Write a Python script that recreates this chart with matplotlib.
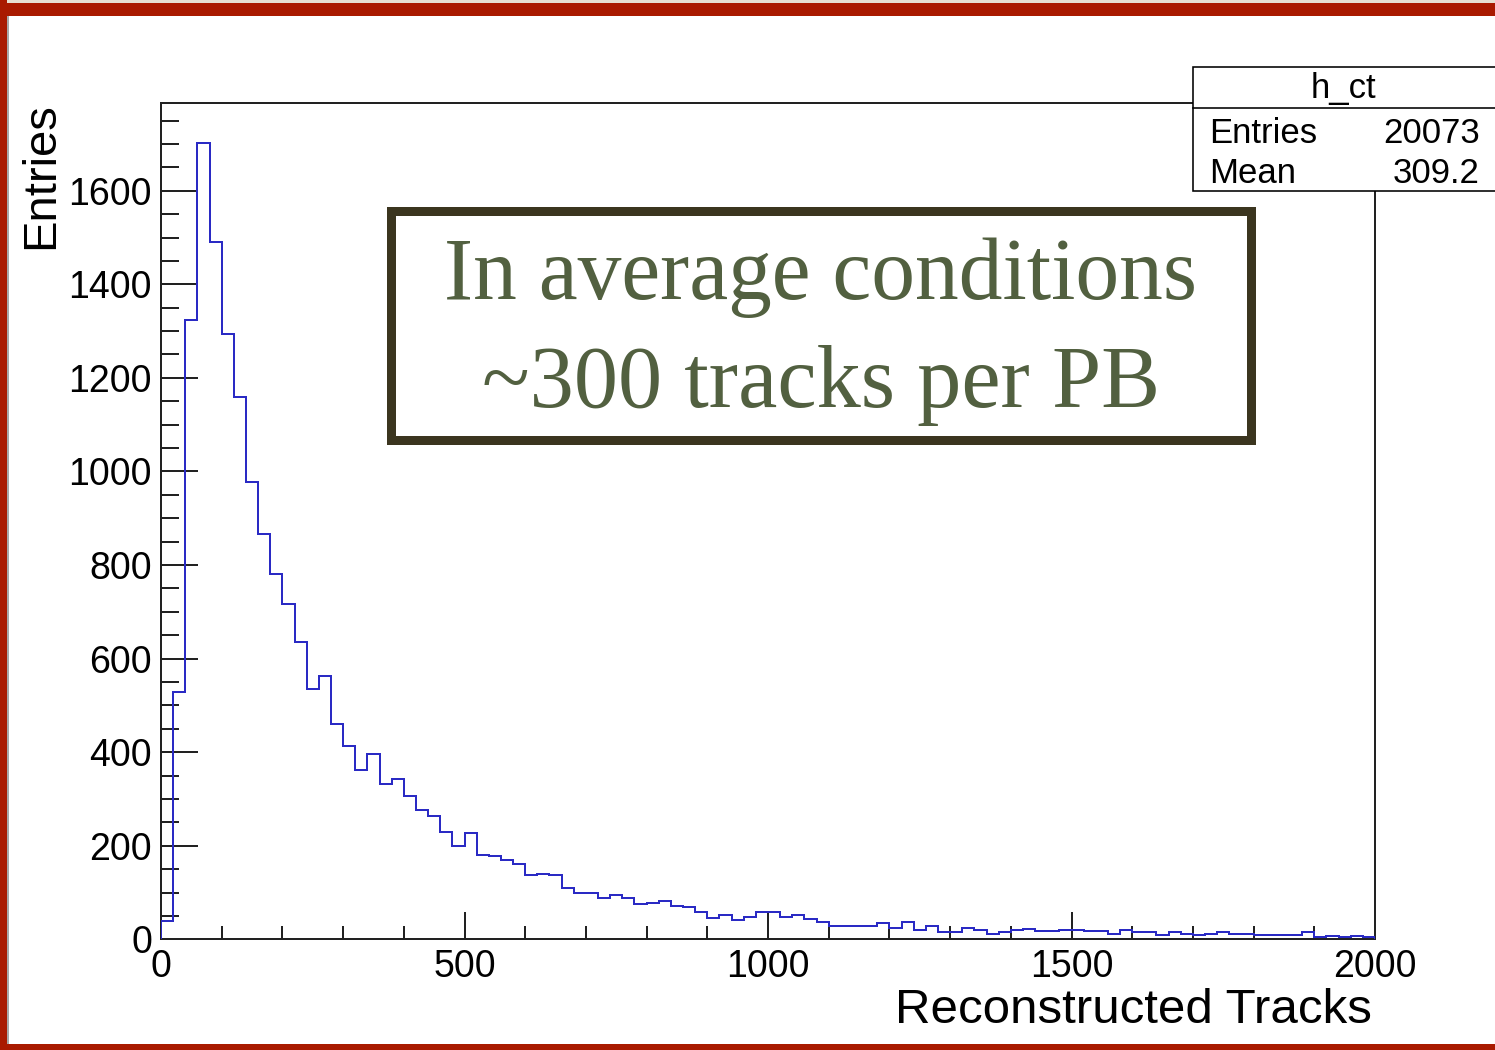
import numpy as np
import matplotlib
matplotlib.use("Agg")
import matplotlib.pyplot as plt
from matplotlib.patches import Rectangle
from matplotlib.lines import Line2D
from matplotlib.ticker import MultipleLocator

# ---------------- data ----------------
bin_start = 0
bin_stop = 2000
bin_width = 20
counts = [
    39, 529, 1323, 1703, 1491, 1293, 1160, 978, 866, 780,
    717, 635, 535, 563, 460, 414, 362, 395, 332, 342,
    307, 276, 263, 230, 200, 227, 180, 177, 170, 161,
    137, 140, 137, 110, 98, 98, 88, 95, 88, 76,
    78, 81, 72, 68, 58, 46, 51, 41, 48, 58,
    58, 48, 51, 43, 36, 28, 28, 28, 28, 35,
    25, 38, 19, 28, 16, 16, 24, 19, 12, 16,
    19, 22, 17, 17, 19, 19, 17, 17, 12, 19,
    16, 16, 9, 16, 12, 10, 12, 16, 12, 12,
    9, 9, 9, 9, 16, 5, 8, 5, 8, 5,
]
x_ticks = [0, 500, 1000, 1500, 2000]
y_ticks = [0, 200, 400, 600, 800, 1000, 1200, 1400, 1600]
x_label = "Reconstructed Tracks"
y_label = "Entries"
stats_title = "h_ct"
stats_names = ["Entries", "Mean"]
stats_values = ["20073", "309.2"]
note_lines = ["In average conditions", "~300 tracks per PB"]

# ---------------- figure ----------------
W, H = 1495, 1050
fig = plt.figure(figsize=(W / 100, H / 100), dpi=100)
fig.patch.set_facecolor("white")


def fx(x):
    return x / W


def fy(y):
    return 1 - y / H


SANS = ["Liberation Sans", "DejaVu Sans"]
SERIF = ["Liberation Serif", "DejaVu Serif"]
PX = 0.72  # points per pixel at 100 dpi

ax_l, ax_r, ax_t, ax_b = 161, 1375, 102.7, 939.3
ax = fig.add_axes([fx(ax_l), fy(ax_b), (ax_r - ax_l) / W, (ax_b - ax_t) / H])

edges = np.arange(bin_start, bin_stop + bin_width, bin_width)
ax.stairs(counts, edges, baseline=0, color="#2a2ac4", lw=2 * PX, zorder=3)

ax.set_xlim(bin_start, bin_stop)
ax.set_ylim(0, 1.05 * max(counts))
ax.set_xticks(x_ticks)
ax.set_yticks(y_ticks)
ax.xaxis.set_minor_locator(MultipleLocator(100))
ax.yaxis.set_minor_locator(MultipleLocator(50))

for s in ax.spines.values():
    s.set_linewidth(2 * PX)
    s.set_color("#222222")

ax.tick_params(axis="both", which="both", direction="in", top=False, right=False,
               width=2 * PX, color="#222222")
ax.tick_params(axis="y", which="major", length=37 * PX, pad=9 * PX)
ax.tick_params(axis="y", which="minor", length=18 * PX)
ax.tick_params(axis="x", which="major", length=27 * PX, pad=10 * PX)
ax.tick_params(axis="x", which="minor", length=13 * PX)
for lab in ax.get_xticklabels() + ax.get_yticklabels():
    lab.set_fontfamily(SANS)
    lab.set_fontsize(27)
    lab.set_color("black")

# axis titles
fig.text(fx(1372), fy(1023), x_label, ha="right", va="baseline",
         fontsize=35.5, family=SANS, color="black")
fig.text(fx(41), fy(102), y_label, ha="center", va="top", rotation=90,
         fontsize=34, family=SANS, color="black")

# ---------------- stats box ----------------
sb_l, sb_t, sb_b, sb_div = 1193.3, 67.3, 190.7, 108.3
fig.add_artist(Rectangle((fx(sb_l), fy(sb_b)), fx(1510) - fx(sb_l), fy(sb_t) - fy(sb_b),
                         transform=fig.transFigure, facecolor="white",
                         edgecolor="black", lw=1.6 * PX, zorder=10))
fig.add_artist(Line2D([fx(sb_l), fx(1500)], [fy(sb_div), fy(sb_div)],
                      transform=fig.transFigure, color="black", lw=1.6 * PX, zorder=11))
fig.text(fx(1343), fy(98), stats_title, ha="center", va="baseline",
         fontsize=25, family=SANS, color="black", zorder=12)
for i, (nm, val) in enumerate(zip(stats_names, stats_values)):
    yb = 143 + 40 * i
    fig.text(fx(1209), fy(yb), nm, ha="left", va="baseline",
             fontsize=25, family=SANS, color="black", zorder=12)
    fig.text(fx(1480), fy(yb), val, ha="right", va="baseline",
             fontsize=25, family=SANS, color="black", zorder=12)

# ---------------- annotation box ----------------
bw = 9
fig.add_artist(Rectangle((fx(386 + bw / 2), fy(444 - bw / 2)),
                         fx(1255 - bw / 2) - fx(386 + bw / 2),
                         fy(207 + bw / 2) - fy(444 - bw / 2),
                         transform=fig.transFigure, facecolor="white",
                         edgecolor="#3b351f", lw=bw * PX, zorder=10))
fig.text(fx(820.5), fy(299), note_lines[0], ha="center", va="baseline",
         fontsize=63, family=SERIF, color="#526040", zorder=12)
fig.text(fx(820.5), fy(407), note_lines[1], ha="center", va="baseline",
         fontsize=63.5, family=SERIF, color="#526040", zorder=12)

# ---------------- slide frame ----------------
red = "#a91a00"
fig.add_artist(Rectangle((0, fy(3)), 1, fy(0) - fy(3), transform=fig.transFigure,
                         facecolor="#e6e0d2", edgecolor="none", zorder=20))
fig.add_artist(Rectangle((0, fy(16)), 1, fy(3) - fy(16), transform=fig.transFigure,
                         facecolor=red, edgecolor="none", zorder=20))
fig.add_artist(Rectangle((0, 0), fx(7), 1, transform=fig.transFigure,
                         facecolor=red, edgecolor="none", zorder=20))
fig.add_artist(Rectangle((fx(7), fy(1044)), fx(2), fy(16) - fy(1044), transform=fig.transFigure,
                         facecolor="#a8a8a8", edgecolor="none", zorder=20))
fig.add_artist(Rectangle((0, 0), 1, fy(1044), transform=fig.transFigure,
                         facecolor=red, edgecolor="none", zorder=20))

fig.savefig("out.png", dpi=100)
